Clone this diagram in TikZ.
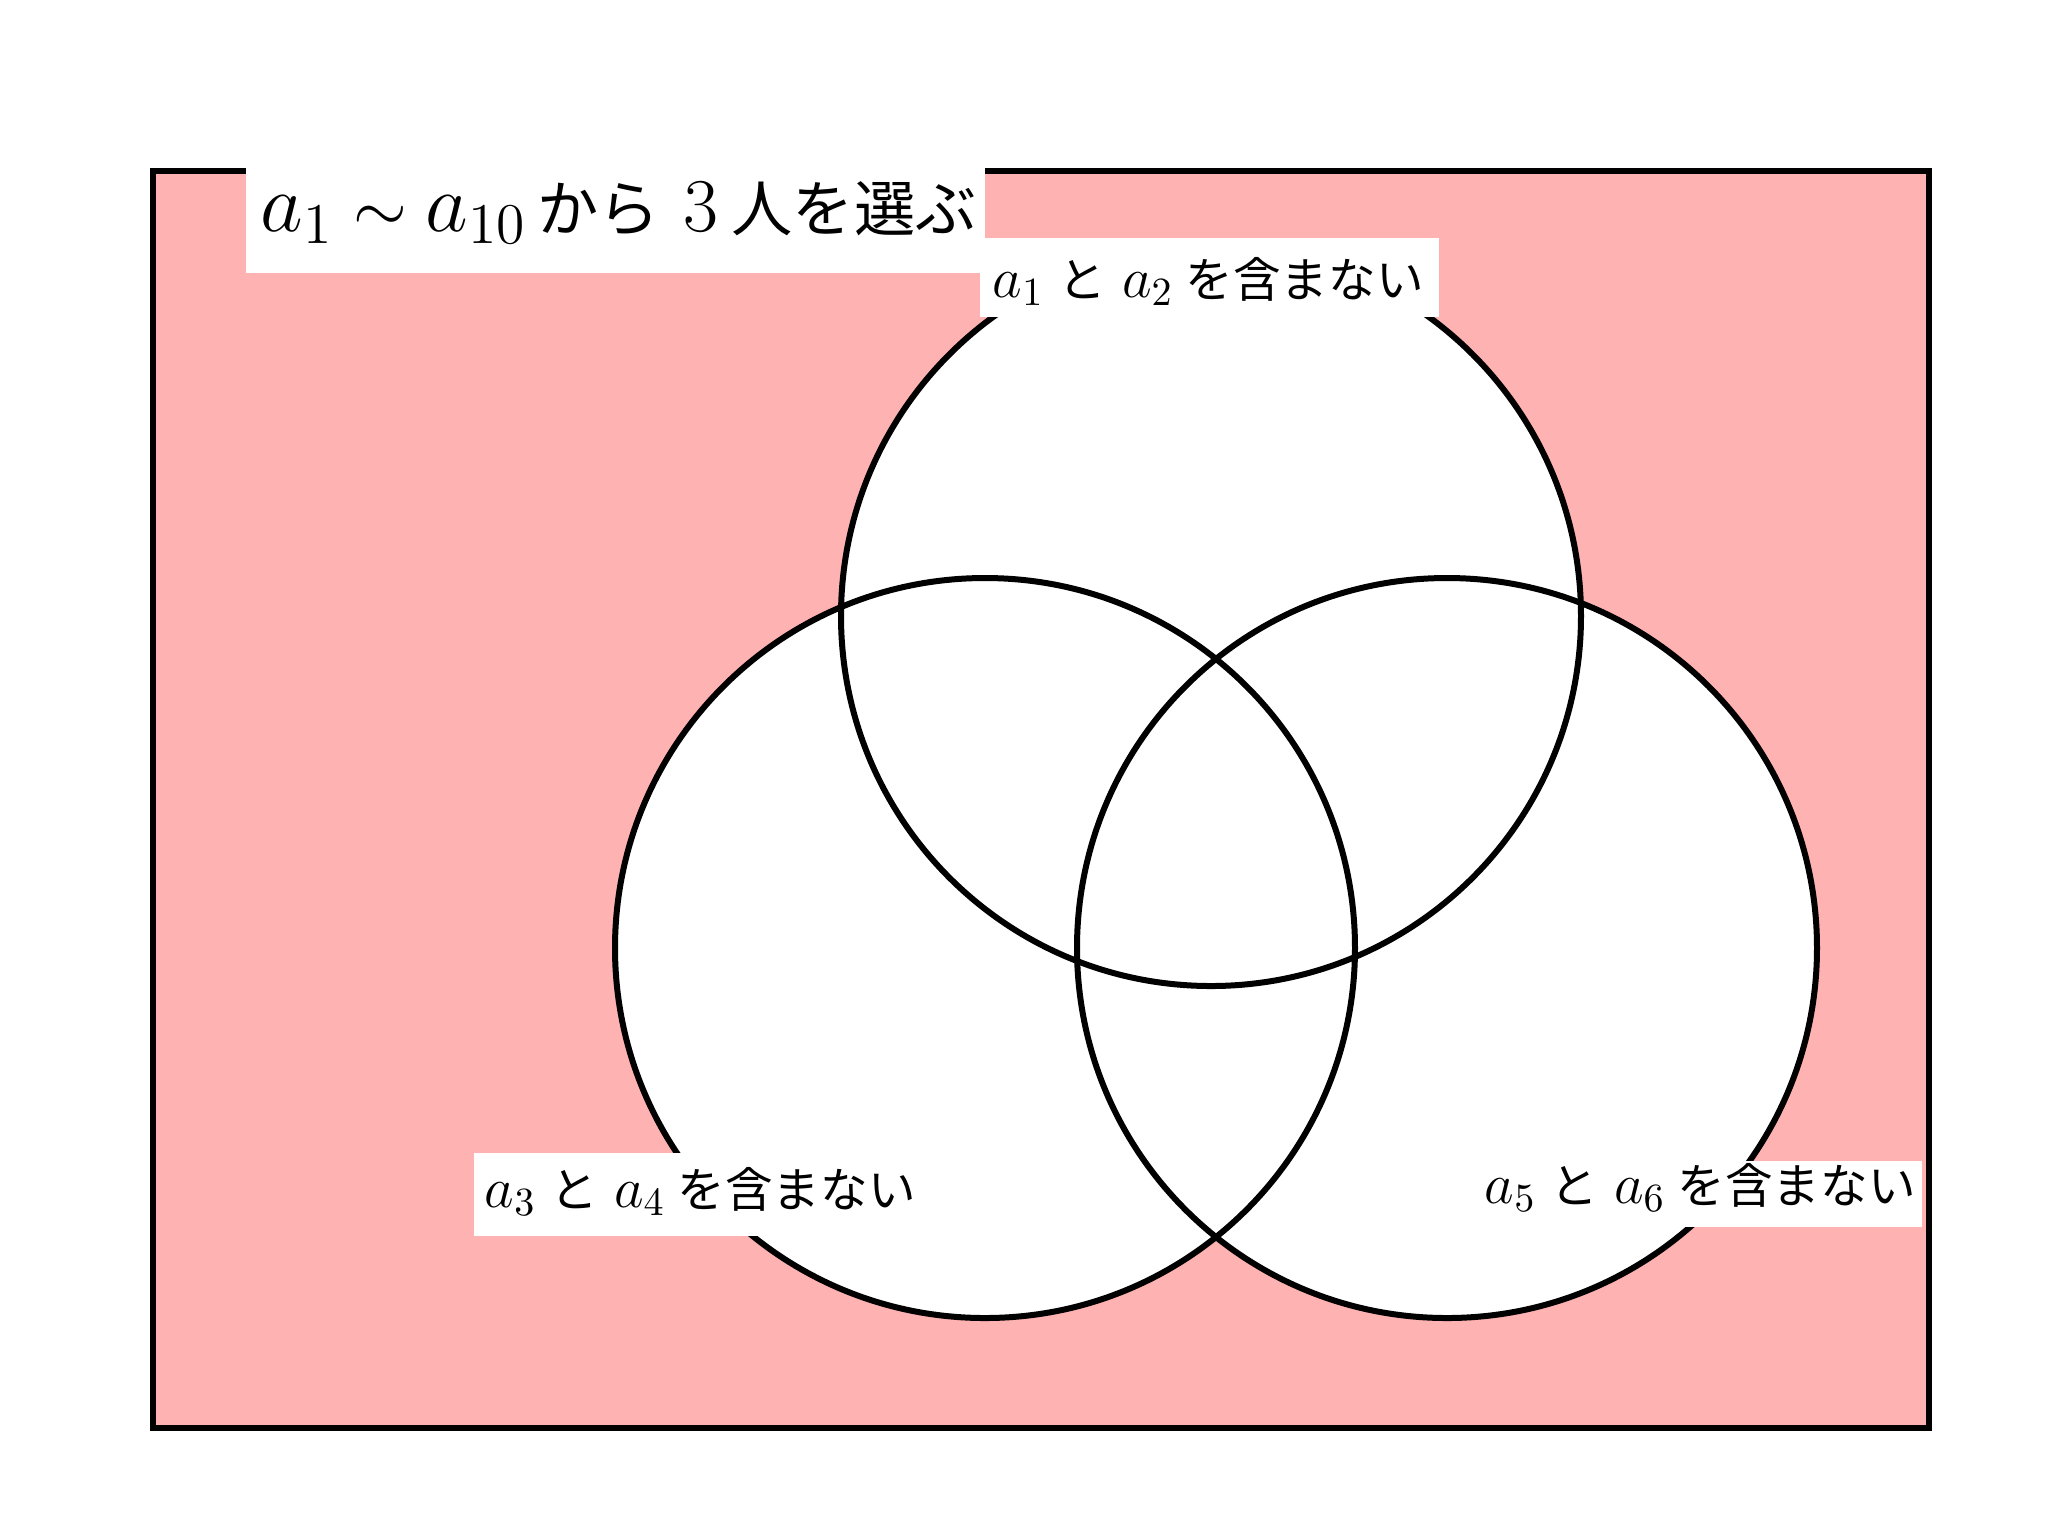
\documentclass[tikz,border=0pt]{standalone}
\usepackage{fontspec}
\newfontfamily\jp[Scale=0.85]{Noto Sans CJK JP}
\newcommand{\tjp}[1]{{\fontsize{18}{22}\selectfont\jp #1}}
\newcommand{\tsm}[1]{{\fontsize{18}{22}\selectfont #1}}
\begin{document}
\begin{tikzpicture}[x=0.25pt,y=-0.25pt,
  frameline/.style={line width=1.5pt,draw=black},
  circline/.style={line width=1.5pt,draw=black},
  patch/.style={fill=white},
  titletext/.style={anchor=base west,inner sep=0pt,font=\fontsize{20.5}{24}\selectfont},
  labeltext/.style={anchor=base west,inner sep=0pt,font=\fontsize{14}{16}\selectfont}]
\useasboundingbox (0,0) rectangle (2048,1536);
% universe
\coordinate (U1) at (153,171);
\coordinate (U2) at (1929,1428);
\fill[red!30] (U1) rectangle (U2);
% circle centres
\coordinate (cA) at (1211,616);
\coordinate (cB) at (985,948);
\coordinate (cC) at (1447,948);
\fill[white] (cA) circle[radius=92.5pt];
\fill[white] (cB) circle[radius=92.5pt];
\fill[white] (cC) circle[radius=92.5pt];
\draw[circline] (cA) circle[radius=92.5pt];
\draw[circline] (cB) circle[radius=92.5pt];
\draw[circline] (cC) circle[radius=92.5pt];
\draw[frameline] (U1) rectangle (U2);
% title
\fill[patch] (246,133) rectangle (985,273);
\node[titletext] (title) at (260,231) {$a_1$\hspace{4.9pt}\tsm{$\sim$}\hspace{4.7pt}$a_{10}$\hspace{2.7pt}\tjp{から}\hspace{5.8pt}{\fontsize{19}{22}\selectfont 3}\hspace{3.4pt}\tjp{人を選ぶ}};
% labels
\fill[patch] (980,238) rectangle (1439,317);
\node[labeltext] (labA) at (992,297) {$a_1$\hspace{3.5pt}{\jp と}\hspace{4pt}$a_2$\hspace{3pt}{\jp を含まない}};
\fill[patch] (474,1153) rectangle (926,1236);
\node[labeltext] (labB) at (484,1207) {$a_3$\hspace{3.5pt}{\jp と}\hspace{4pt}$a_4$\hspace{3pt}{\jp を含まない}};
\fill[patch] (1480,1161) rectangle (1922,1227);
\node[labeltext] (labC) at (1484,1203) {$a_5$\hspace{3.5pt}{\jp と}\hspace{4pt}$a_6$\hspace{3pt}{\jp を含まない}};
\end{tikzpicture}
\end{document}
